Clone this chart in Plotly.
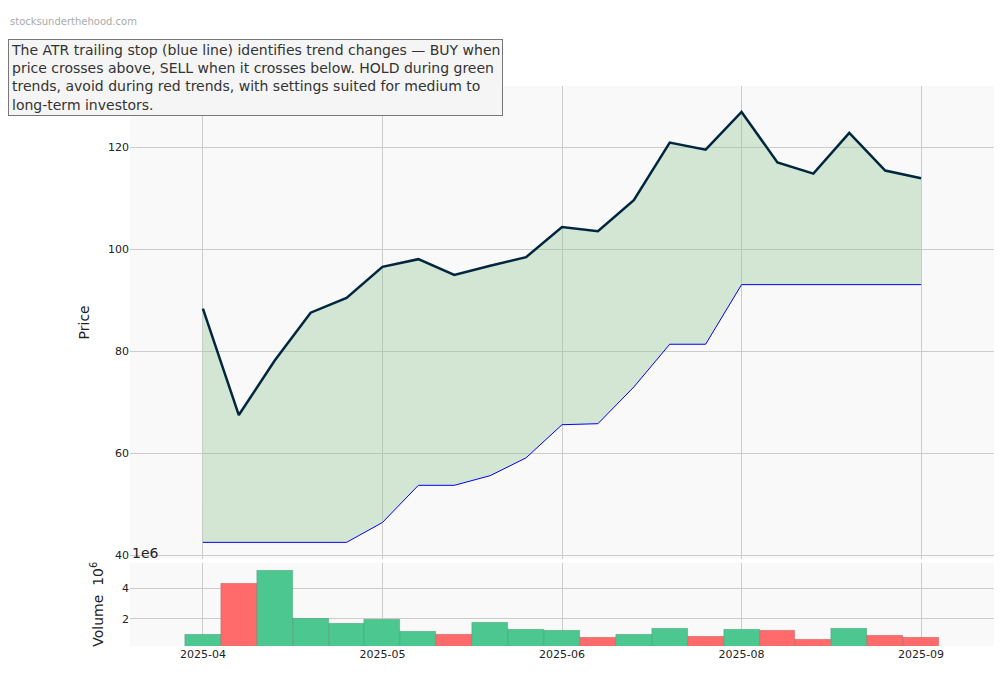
import plotly.graph_objects as go
from plotly.subplots import make_subplots

idx = list(range(21))
tick_pos = [0, 5, 10, 15, 20]
tick_labels = ["2025-04", "2025-05", "2025-06", "2025-08", "2025-09"]
price = [88.4, 67.5, 78.2, 87.6, 90.5, 96.6, 98.1, 95.0, 96.8, 98.5, 104.4, 103.6,
         109.7, 121.0, 119.6, 127.0, 117.1, 114.9, 122.9, 115.5, 114.0]
stop = [42.5, 42.5, 42.5, 42.5, 42.5, 46.4, 53.7, 53.7, 55.6, 59.1, 65.6, 65.8,
        73.0, 81.4, 81.4, 93.1, 93.1, 93.1, 93.1, 93.1, 93.1]
volume = [0.97, 4.3, 5.2, 2.0, 1.65, 1.93, 1.17, 0.97, 1.72, 1.31, 1.24, 0.76,
          0.97, 1.38, 0.83, 1.31, 1.24, 0.62, 1.38, 0.9, 0.76]
vol_up = [True, False, True, True, True, True, True, False, True, True, True, False,
          True, True, False, True, False, False, True, False, False]

fig = make_subplots(rows=2, cols=1, shared_xaxes=True, row_heights=[0.85, 0.15],
                    vertical_spacing=0.007)
fig.add_trace(go.Scatter(x=idx, y=stop, mode="lines", line=dict(color="blue", width=1),
                         showlegend=False), row=1, col=1)
fig.add_trace(go.Scatter(x=idx, y=price, mode="lines", line=dict(color="#002640", width=2.5),
                         fill="tonexty", fillcolor="rgba(140,195,140,0.35)", showlegend=False),
              row=1, col=1)
fig.add_trace(go.Bar(x=idx, y=volume, width=1.0,
                     marker=dict(color=["#4cc790" if u else "#ff6b6b" for u in vol_up],
                                 line=dict(color="rgba(0,0,0,0.25)", width=0.5)),
                     showlegend=False), row=2, col=1)

ax = dict(showgrid=True, gridcolor="#cccccc", zeroline=False, showline=False,
          tickfont=dict(size=11, color="#222"), ticks="")
fig.update_xaxes(**ax, range=[-2.03, 22.03], tickvals=tick_pos, ticktext=tick_labels)
fig.update_xaxes(showticklabels=False, row=1, col=1)
fig.update_yaxes(**ax)
fig.update_yaxes(range=[39.3, 132.1], tickvals=[40, 60, 80, 100, 120],
                 title=dict(text="Price", font=dict(size=14, color="#222")), row=1, col=1)
fig.update_yaxes(range=[0.2, 5.7], tickvals=[2, 4],
                 title=dict(text="Volume  10<sup>6</sup>", font=dict(size=14, color="#222")),
                 row=2, col=1)

fig.add_annotation(text="stocksunderthehood.com", xref="paper", yref="paper",
                   x=-122/864, y=1+64/560, xanchor="left", yanchor="middle", showarrow=False,
                   font=dict(size=10, color="#aaaaaa", family="DejaVu Sans"))
fig.add_annotation(text="The ATR trailing stop (blue line) identifies trend changes — BUY when<br>"
                        "price crosses above, SELL when it crosses below. HOLD during green<br>"
                        "trends, avoid during red trends, with settings suited for medium to<br>"
                        "long-term investors.",
                   xref="paper", yref="paper", x=-122/864, y=1+47/560, xanchor="left",
                   yanchor="top", showarrow=False, align="left",
                   font=dict(size=14, color="#333", family="DejaVu Sans"),
                   bgcolor="#f5f5f5", bordercolor="#777", borderwidth=1, borderpad=2)
fig.add_annotation(text="1e6", xref="paper", yref="paper", x=0, y=0.148, xanchor="left",
                   yanchor="bottom", showarrow=False, font=dict(size=14, color="#222"))

fig.update_layout(width=988, height=662, margin=dict(l=122, r=2, t=78, b=24),
                  plot_bgcolor="#f9f9f9", paper_bgcolor="white", bargap=0,
                  font=dict(family="DejaVu Sans"))
fig.write_html("out.html")
